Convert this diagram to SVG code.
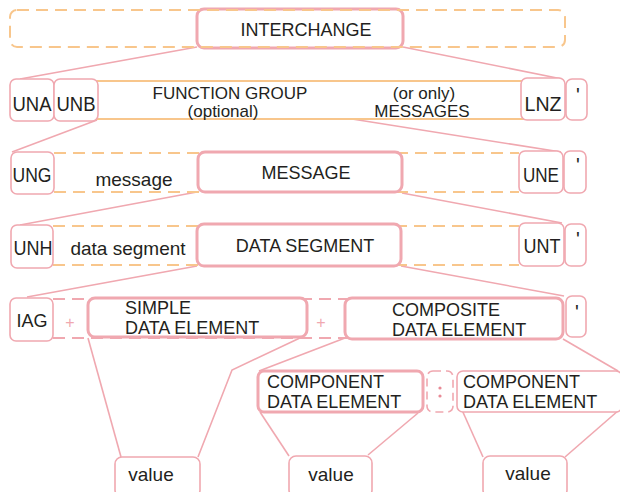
<svg xmlns="http://www.w3.org/2000/svg" width="620" height="492" viewBox="0 0 620 492">
<style>
.bg{fill:#ffffff}
.thin{fill:#ffffff;stroke:#f0a8b0;stroke-width:1.6}
.thick{fill:#ffffff;stroke:#f0a8b0;stroke-width:3}
.odash{fill:none;stroke:#f8c68c;stroke-width:2;stroke-dasharray:12 7}
.osolid{fill:none;stroke:#f8c68c;stroke-width:2}
.pdash{fill:none;stroke:#f0a8b0;stroke-width:2;stroke-dasharray:12 7}
.conn{fill:none;stroke:#f0a8b0;stroke-width:1.6}
text{font-family:"Liberation Sans",Arial,sans-serif;fill:#231f20}
.t17{font-size:17px}
.t18{font-size:18px}
.t19{font-size:19px}
.t20{font-size:20px}
.mid{text-anchor:middle}
.plus{font-size:16px;fill:#f0a8b0}
</style>
<rect class="bg" x="0" y="0" width="620" height="492"/>

<g id="connectors">
<line class="conn" x1="197" y1="47" x2="20" y2="79"/>
<line class="conn" x1="403" y1="47" x2="562" y2="79"/>
<line class="conn" x1="97" y1="120" x2="12" y2="152"/>
<line class="conn" x1="352" y1="119" x2="561" y2="152"/>
<line class="conn" x1="197" y1="192" x2="20" y2="225"/>
<line class="conn" x1="402" y1="193" x2="562" y2="223"/>
<line class="conn" x1="197" y1="266" x2="27" y2="297"/>
<line class="conn" x1="401" y1="266" x2="564" y2="296"/>
<line class="conn" x1="88" y1="338" x2="121" y2="457"/>
<polyline class="conn" points="302,337 232,370 198,457"/>
<line class="conn" x1="345" y1="338" x2="259" y2="371"/>
<line class="conn" x1="563" y1="339" x2="618" y2="371"/>
<line class="conn" x1="260" y1="412" x2="289" y2="456"/>
<line class="conn" x1="418" y1="413" x2="368" y2="455"/>
<line class="conn" x1="462" y1="410" x2="483" y2="457"/>
<line class="conn" x1="619" y1="410" x2="565" y2="457"/>
</g>

<!-- row 1 -->
<g id="interchange-row">
<rect class="thick" x="197" y="9" width="206" height="39" rx="7"/>
<rect class="odash" x="10" y="10" width="555" height="37" rx="7"/>
</g>
<g id="interchange"><text class="t18 mid" x="306" y="36">INTERCHANGE</text></g>

<!-- row 2 -->
<g id="function-group">
<rect class="osolid" x="90" y="81" width="440" height="38"/>
<text class="t17 mid" x="230" y="99">FUNCTION GROUP</text>
<text class="t17 mid" x="223" y="117">(optional)</text>
<text class="t17 mid" x="424" y="99">(or only)</text>
<text class="t17 mid" x="422" y="117">MESSAGES</text>
</g>
<g id="una"><rect class="thin" x="10" y="79" width="44" height="42" rx="6"/><text class="t20 mid" x="32" y="111" textLength="39" lengthAdjust="spacingAndGlyphs">UNA</text></g>
<g id="unb"><rect class="thin" x="54" y="79" width="44" height="42" rx="6"/><text class="t20 mid" x="76" y="111" textLength="39" lengthAdjust="spacingAndGlyphs">UNB</text></g>
<g id="lnz"><rect class="thin" x="521" y="78" width="44" height="42" rx="6"/><text class="t20 mid" x="543" y="111" textLength="37" lengthAdjust="spacingAndGlyphs">LNZ</text></g>
<g id="q1"><rect class="thin" x="566" y="79" width="21" height="41" rx="6"/><text class="t20 mid" x="578" y="102">'</text></g>

<!-- row 3 -->
<g id="message-row">
<line class="odash" x1="54" y1="153" x2="519" y2="153"/>
<line class="odash" x1="54" y1="192" x2="519" y2="192"/>
<text class="t19 mid" x="134" y="186">message</text>
</g>
<g id="ung"><rect class="thin" x="11" y="152" width="43" height="42" rx="6"/><text class="t20 mid" x="32" y="182" textLength="39" lengthAdjust="spacingAndGlyphs">UNG</text></g>
<g id="message"><rect class="thick" x="198" y="152" width="204" height="40" rx="7"/><text class="t18 mid" x="306" y="179">MESSAGE</text></g>
<g id="une"><rect class="thin" x="519" y="151" width="44" height="42" rx="6"/><text class="t20 mid" x="541" y="182" textLength="36" lengthAdjust="spacingAndGlyphs">UNE</text></g>
<g id="q2"><rect class="thin" x="564" y="151" width="22" height="42" rx="6"/><text class="t20 mid" x="578" y="172">'</text></g>

<!-- row 4 -->
<g id="segment-row">
<line class="odash" x1="53" y1="226" x2="519" y2="226"/>
<line class="odash" x1="53" y1="265" x2="519" y2="265"/>
<text class="t19 mid" x="128" y="255">data segment</text>
</g>
<g id="unh"><rect class="thin" x="11" y="225" width="42" height="43" rx="6"/><text class="t20 mid" x="33" y="255" textLength="39" lengthAdjust="spacingAndGlyphs">UNH</text></g>
<g id="data-segment"><rect class="thick" x="197" y="224" width="204" height="42" rx="7"/><text class="t18 mid" x="305" y="252">DATA SEGMENT</text></g>
<g id="unt"><rect class="thin" x="519" y="223" width="45" height="43" rx="6"/><text class="t20 mid" x="542" y="253" textLength="37" lengthAdjust="spacingAndGlyphs">UNT</text></g>
<g id="q3"><rect class="thin" x="565" y="224" width="21" height="42" rx="6"/><text class="t20 mid" x="578" y="246">'</text></g>

<!-- row 5 -->
<g id="element-row">
<line class="pdash" x1="53" y1="299" x2="566" y2="299"/>
<line class="pdash" x1="53" y1="338" x2="566" y2="338"/>
<text class="plus mid" x="70" y="328">+</text>
<text class="plus mid" x="321" y="328">+</text>
</g>
<g id="iag"><rect class="thin" x="10" y="298" width="43" height="43" rx="6"/><text class="t18 mid" x="32" y="327">IAG</text></g>
<g id="simple"><rect class="thick" x="88" y="298" width="219" height="39" rx="7"/><text class="t18" x="125" y="314">SIMPLE</text><text class="t18" x="125" y="334">DATA ELEMENT</text></g>
<g id="composite"><rect class="thick" x="345" y="298" width="218" height="41" rx="7"/><text class="t18" x="392" y="316">COMPOSITE</text><text class="t18" x="392" y="336">DATA ELEMENT</text></g>
<g id="q4"><rect class="thin" x="566" y="296" width="20" height="41" rx="6"/><text class="t20 mid" x="577" y="319">'</text></g>

<!-- row 6 -->
<g id="component1"><rect class="thick" x="258" y="371" width="165" height="41" rx="6"/><text class="t18" x="267" y="388">COMPONENT</text><text class="t18" x="267" y="408">DATA ELEMENT</text></g>
<g id="colon"><rect class="pdash" x="427" y="371" width="26" height="41" rx="6" style="stroke-width:1.6;stroke-dasharray:8 5"/><circle cx="440" cy="388" r="1.6" fill="#e88a96"/><circle cx="440" cy="396" r="1.6" fill="#e88a96"/></g>
<g id="component2"><rect class="thin" x="457" y="371" width="165" height="41" rx="6"/><text class="t18" x="463" y="388">COMPONENT</text><text class="t18" x="463" y="408">DATA ELEMENT</text></g>

<!-- row 7 -->
<g id="value1"><rect class="thin" x="115" y="457" width="85" height="40" rx="7"/><text class="t19 mid" x="151" y="481">value</text></g>
<g id="value2"><rect class="thin" x="289" y="456" width="83" height="41" rx="7"/><text class="t19 mid" x="331" y="481">value</text></g>
<g id="value3"><rect class="thin" x="483" y="456" width="84" height="41" rx="7"/><text class="t19 mid" x="528" y="480">value</text></g>
</svg>
